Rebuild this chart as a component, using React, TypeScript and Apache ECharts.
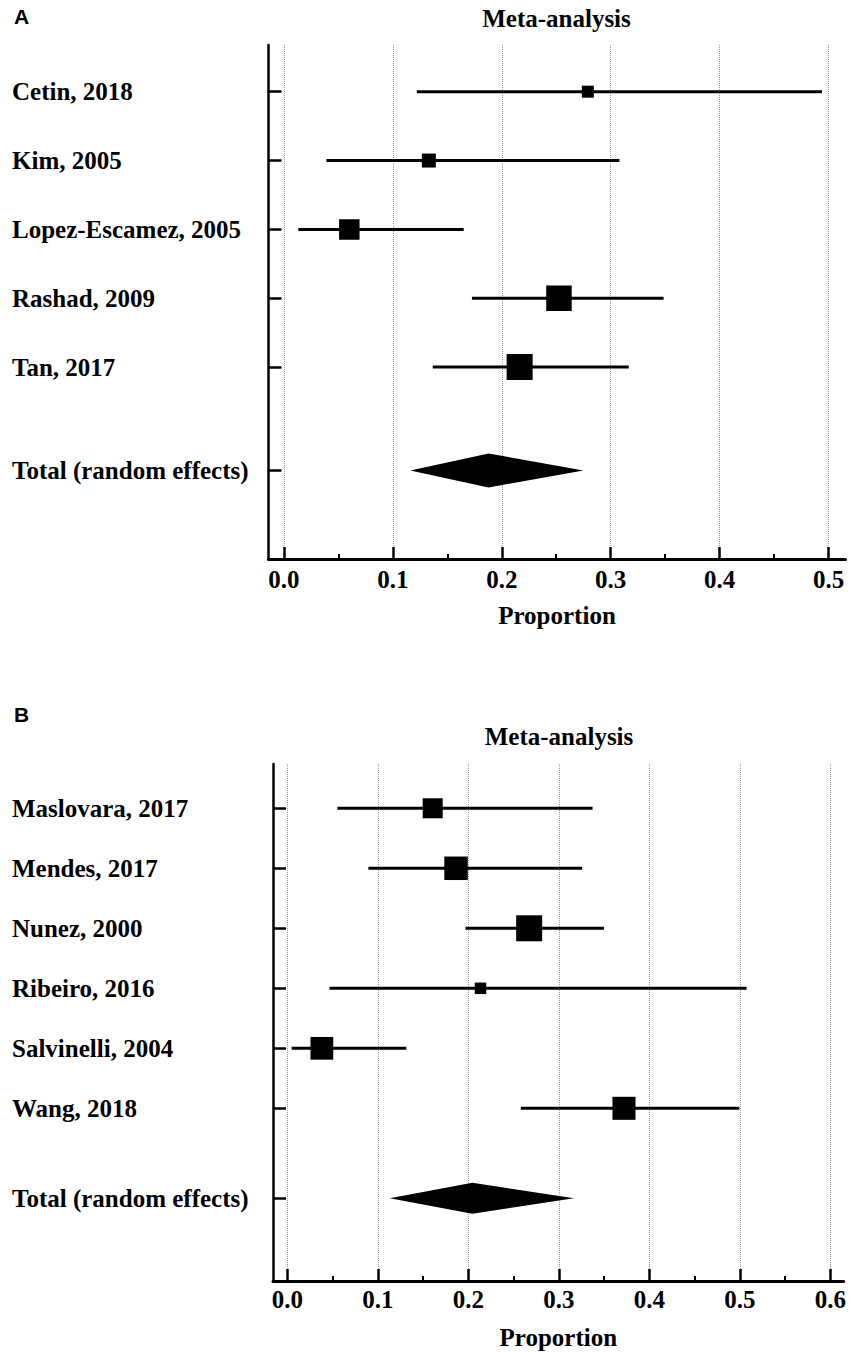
import React, { useEffect, useRef } from "react";
import * as echarts from "echarts";

// ---------- Panel A data ----------
const studiesA = ["Cetin, 2018", "Kim, 2005", "Lopez-Escamez, 2005", "Rashad, 2009", "Tan, 2017"];
const estA = [0.279, 0.133, 0.06, 0.2525, 0.2164];
const lowA = [0.122, 0.039, 0.0132, 0.1726, 0.1366];
const highA = [0.494, 0.308, 0.165, 0.3486, 0.3166];
const weightA = [6.9, 9.4, 20.1, 31.2, 32.4];
const totalA = [0.116, 0.1878, 0.275]; // low, estimate, high
const ticksA = [0, 0.1, 0.2, 0.3, 0.4, 0.5];
const minorTicksA = [0.05, 0.15, 0.25, 0.35, 0.45];

// ---------- Panel B data ----------
const studiesB = ["Maslovara, 2017", "Mendes, 2017", "Nunez, 2000", "Ribeiro, 2016", "Salvinelli, 2004", "Wang, 2018"];
const estB = [0.1605, 0.1863, 0.2671, 0.2133, 0.038, 0.3719];
const lowB = [0.0552, 0.0894, 0.1968, 0.0465, 0.0046, 0.2579];
const highB = [0.3372, 0.3257, 0.3497, 0.5074, 0.1313, 0.4994];
const weightB = [14.3, 19.7, 24.1, 4.7, 18.4, 18.9];
const totalB = [0.113, 0.2043, 0.3166];
const ticksB = [0, 0.1, 0.2, 0.3, 0.4, 0.5, 0.6];
const minorTicksB = [0.05, 0.15, 0.25, 0.35, 0.45, 0.55];

const totalLabel = "Total (random effects)";
const titleText = "Meta-analysis";
const axisName = "Proportion";

const SERIF = "'Liberation Serif', 'Times New Roman', serif";
const SANS = "'Liberation Sans', Arial, sans-serif";
const FS = 25;

function rowPositions(n: number) {
  const pos = Array.from({ length: n }, (_, i) => i);
  return { pos, total: n + 0.5 };
}

function forestSeries(xi: number, yi: number, lo: number[], hi: number[], est: number[], w: number[], maxSize: number) {
  const maxW = Math.max(...w);
  const { pos } = rowPositions(est.length);
  return {
    type: "custom",
    xAxisIndex: xi,
    yAxisIndex: yi,
    clip: false,
    data: pos.map((p, i) => [est[i], p, lo[i], hi[i], w[i]]),
    encode: { x: [0, 2, 3], y: 1 },
    renderItem: (_params: any, api: any) => {
      const y = api.value(1);
      const p0 = api.coord([api.value(2), y]);
      const p1 = api.coord([api.value(3), y]);
      const c = api.coord([api.value(0), y]);
      const s = maxSize * Math.sqrt(api.value(4) / maxW);
      return {
        type: "group",
        children: [
          { type: "line", shape: { x1: p0[0], y1: p0[1], x2: p1[0], y2: p1[1] }, style: { stroke: "#000", lineWidth: 3 } },
          { type: "rect", shape: { x: c[0] - s / 2, y: c[1] - s / 2, width: s, height: s }, style: { fill: "#000" } },
        ],
      };
    },
  };
}

function diamondSeries(xi: number, yi: number, tot: number[], n: number, half: number) {
  const { total } = rowPositions(n);
  return {
    type: "custom",
    xAxisIndex: xi,
    yAxisIndex: yi,
    clip: false,
    data: [[tot[1], total, tot[0], tot[2]]],
    encode: { x: [0, 2, 3], y: 1 },
    renderItem: (_params: any, api: any) => {
      const y = api.value(1);
      const l = api.coord([api.value(2), y]);
      const r = api.coord([api.value(3), y]);
      const c = api.coord([api.value(0), y]);
      return {
        type: "polygon",
        shape: { points: [[l[0], l[1]], [c[0], c[1] - half], [r[0], r[1]], [c[0], c[1] + half]] },
        style: { fill: "#000" },
      };
    },
  };
}

function xAxes(gridIndex: number, min: number, max: number, ticks: number[], minor: number[], labelMargin: number) {
  return [
    {
      type: "value",
      gridIndex,
      min,
      max,
      position: "bottom",
      axisLine: { show: true, onZero: false, lineStyle: { color: "#000", width: 3 } },
      axisTick: { show: true, inside: true, length: 12, customValues: ticks, lineStyle: { color: "#000", width: 2.5 } },
      axisLabel: {
        show: true,
        customValues: ticks,
        margin: labelMargin,
        formatter: (v: number) => v.toFixed(1),
        color: "#000",
        fontFamily: SERIF,
        fontWeight: "bold",
        fontSize: FS,
      },
      splitLine: { show: true, lineStyle: { color: "#9a9a9a", type: "dotted", width: 1 } },
      name: axisName,
      nameLocation: "middle",
      nameGap: 44,
      nameTextStyle: { color: "#000", fontFamily: SERIF, fontWeight: "bold", fontSize: FS },
    },
    {
      type: "value",
      gridIndex,
      min,
      max,
      position: "bottom",
      axisLine: { show: false, onZero: false },
      axisTick: { show: true, inside: true, length: 5, customValues: minor, lineStyle: { color: "#000", width: 2 } },
      axisLabel: { show: false },
      splitLine: { show: false },
    },
  ];
}

function yAxis(gridIndex: number, min: number, max: number, names: string[], labelMargin: number) {
  const { pos, total } = rowPositions(names.length);
  const vals = [...pos, total];
  return {
    type: "value",
    gridIndex,
    inverse: true,
    min,
    max,
    position: "left",
    axisLine: { show: true, onZero: false, lineStyle: { color: "#000", width: 2.5 } },
    axisTick: { show: true, inside: true, length: 13, customValues: vals, lineStyle: { color: "#000", width: 2.5 } },
    axisLabel: {
      show: true,
      customValues: vals,
      align: "left",
      margin: labelMargin,
      formatter: (v: number) => {
        const i = vals.findIndex((x) => Math.abs(x - v) < 1e-6);
        return i < names.length ? names[i] : totalLabel;
      },
      color: "#000",
      fontFamily: SERIF,
      fontWeight: "bold",
      fontSize: FS,
    },
    splitLine: { show: false },
  };
}

export default function App() {
  const ref = useRef<HTMLDivElement>(null);
  useEffect(() => {
    document.body.style.margin = "0";
    const chart = echarts.init(ref.current!, undefined, { renderer: "svg" });
    const option: any = {
      animation: false,
      backgroundColor: "#fff",
      grid: [
        { left: 268.5, top: 45, width: 577, height: 514 },
        { left: 273, top: 764, width: 572.7, height: 517 },
      ],
      xAxis: [
        ...xAxes(0, -0.0142, 0.5156, ticksA, minorTicksA, 8),
        ...xAxes(1, -0.016, 0.6147, ticksB, minorTicksB, 6),
      ],
      yAxis: [
        yAxis(0, -0.678, 6.787, studiesA, 256.5),
        yAxis(1, -0.738, 7.878, studiesB, 261),
      ],
      graphic: [
        { type: "text", x: 14, y: 6, style: { text: "A", font: `bold 21px ${SANS}`, fill: "#000", textVerticalAlign: "top" } },
        { type: "text", x: 556.5, y: 6, style: { text: titleText, font: `bold ${FS}px ${SERIF}`, fill: "#000", textAlign: "center", textVerticalAlign: "top" } },
        { type: "text", x: 14, y: 704, style: { text: "B", font: `bold 21px ${SANS}`, fill: "#000", textVerticalAlign: "top" } },
        { type: "text", x: 559, y: 724, style: { text: titleText, font: `bold ${FS}px ${SERIF}`, fill: "#000", textAlign: "center", textVerticalAlign: "top" } },
      ],
      series: [
        forestSeries(0, 0, lowA, highA, estA, weightA, 26),
        diamondSeries(0, 0, totalA, studiesA.length, 17),
        forestSeries(2, 1, lowB, highB, estB, weightB, 26),
        diamondSeries(2, 1, totalB, studiesB.length, 15.5),
      ],
    };
    chart.setOption(option);
    return () => chart.dispose();
  }, []);
  return <div ref={ref} style={{ width: 849, height: 1353 }} />;
}
